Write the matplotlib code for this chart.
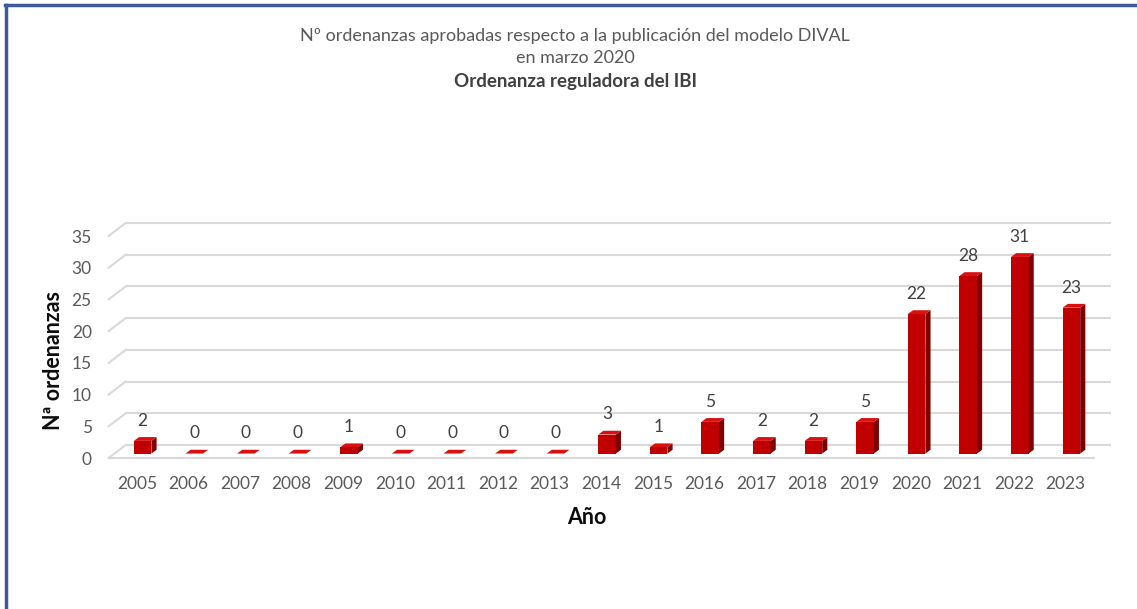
import numpy as np
import matplotlib.pyplot as plt
from matplotlib.patches import Polygon, Rectangle
from matplotlib.lines import Line2D

plt.rcParams['font.family'] = ['Lato', 'DejaVu Sans']

years = ['2005', '2006', '2007', '2008', '2009', '2010', '2011', '2012', '2013',
         '2014', '2015', '2016', '2017', '2018', '2019', '2020', '2021', '2022', '2023']
counts = [2, 0, 0, 0, 1, 0, 0, 0, 0, 3, 1, 5, 2, 2, 5, 22, 28, 31, 23]
yticks = [0, 5, 10, 15, 20, 25, 30, 35]

title_lines = ['Nº ordenanzas aprobadas respecto a la publicación del modelo DIVAL',
               'en marzo 2020']
subtitle = 'Ordenanza reguladora del IBI'

# fake 3D geometry (data units)
wall_dx, wall_dy = 0.33, 2.05
bar_off_x, bar_off_y = 0.11, 0.7
bar_w = 0.34
bar_dx, bar_dy = 0.10, 0.6

grid_col = '#D9D9D9'
text_col = '#595959'

fig = plt.figure(figsize=(11.37, 6.09), dpi=100)
ax = fig.add_axes([0.0887, 0.2323, 0.894, 0.4114])
ax.set_xlim(-0.7, 19.0)
ax.set_ylim(-1.5, 38)
for s in ax.spines.values():
    s.set_visible(False)

x = np.arange(len(years))
x0, x1 = -0.55, len(years) - 1 + 0.55

# back wall gridlines + side wall diagonals
for v in yticks:
    ax.plot([x0 + wall_dx, x1 + wall_dx], [v + wall_dy, v + wall_dy],
            color=grid_col, lw=1.5, zorder=1, solid_capstyle='butt')
    ax.plot([x0, x0 + wall_dx], [v, v + wall_dy], color=grid_col, lw=1.5, zorder=1)
# floor front edge
ax.plot([x0, x1], [0, 0], color=grid_col, lw=1.5, zorder=1)

front_col = '#C00000'
side_col = '#7F0000'
top_col = '#D81010'

for xi, v in zip(x, counts):
    left = xi + bar_off_x - bar_w / 2
    right = xi + bar_off_x + bar_w / 2
    b = bar_off_y
    ax.add_patch(Rectangle((left, b), bar_w, v, facecolor=front_col,
                           edgecolor='none', zorder=3))
    ax.add_patch(Polygon([(right, b), (right + bar_dx, b + bar_dy),
                          (right + bar_dx, b + v + bar_dy), (right, b + v)],
                         closed=True, facecolor=side_col, edgecolor='none', zorder=3))
    ax.add_patch(Polygon([(left, b + v), (right, b + v),
                          (right + bar_dx, b + v + bar_dy), (left + bar_dx, b + v + bar_dy)],
                         closed=True, facecolor=top_col, edgecolor='none', zorder=4))
    ax.annotate(str(v), (xi + bar_off_x, b + v), xytext=(0, 14.5),
                textcoords='offset points', ha='center', va='center',
                fontsize=12.5, color='#404040', zorder=5)

ax.set_xticks(x)
ax.set_xticklabels(years)
ax.set_yticks(yticks)
ax.set_yticklabels([str(t) for t in yticks])
ax.tick_params(axis='both', length=0, labelsize=12.5, labelcolor=text_col)
ax.tick_params(axis='y', pad=6.5)
ax.tick_params(axis='x', pad=6)

fig.text(53 / 1137, 1 - 360 / 609, 'Nª ordenanzas', rotation=90, ha='center',
         va='center', fontsize=15.5, fontweight='bold', color='#0D0D0D')
fig.text(587 / 1137, 1 - 517 / 609, 'Año', ha='center', va='center',
         fontsize=15.5, fontweight='bold', color='#0D0D0D')

fig.text(575 / 1137, 1 - 36 / 609, title_lines[0], ha='center', va='center',
         fontsize=13, color=text_col)
fig.text(575 / 1137, 1 - 58 / 609, title_lines[1], ha='center', va='center',
         fontsize=13, color=text_col)
fig.text(575 / 1137, 1 - 82 / 609, subtitle, ha='center', va='center',
         fontsize=13.5, fontweight='bold', color='#404040')

# blue border (left and top)
fig.add_artist(Line2D([6 / 1137, 6 / 1137], [0, 1 - 5 / 609], color='#3F5A9A', lw=2.5))
fig.add_artist(Line2D([5 / 1137, 1], [1 - 5 / 609, 1 - 5 / 609], color='#3F5A9A', lw=2.5))

fig.savefig('out.png', dpi=100)
